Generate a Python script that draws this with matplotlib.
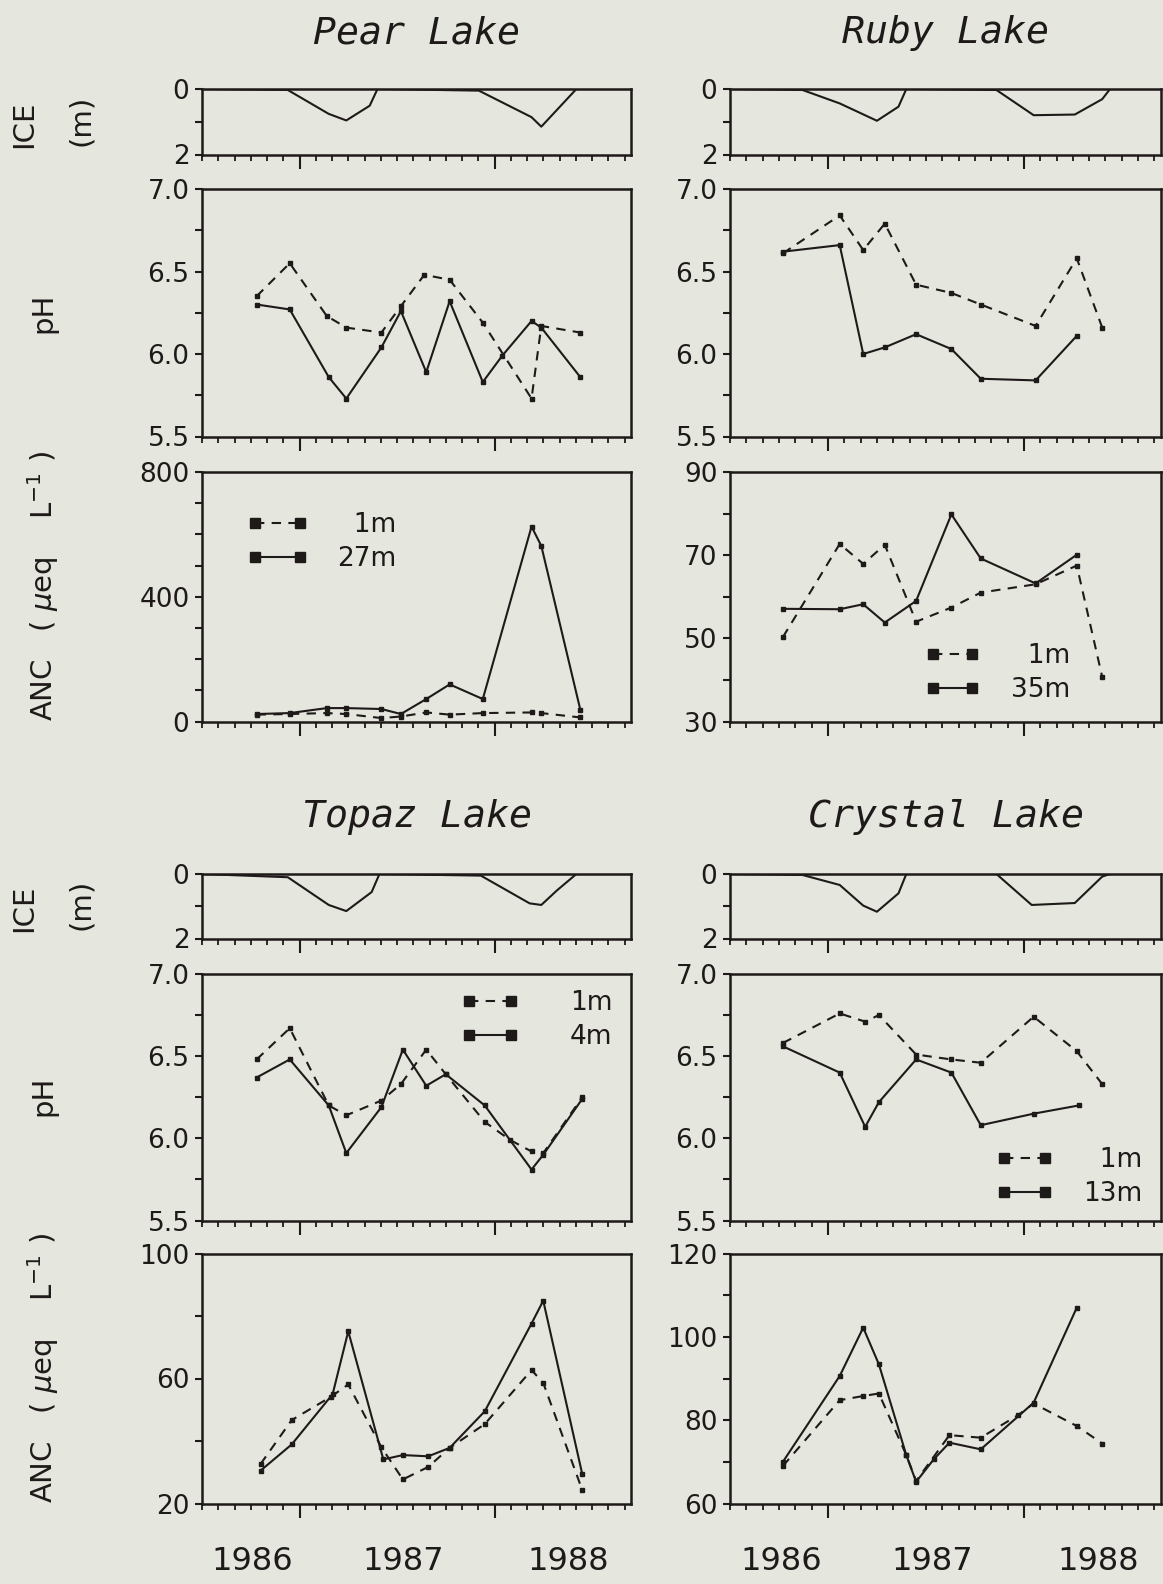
import numpy as np
import matplotlib
matplotlib.use("Agg")
import matplotlib.pyplot as plt
from matplotlib.ticker import FixedLocator, NullFormatter, FormatStrFormatter

# ---------------- data (time in decimal years) ----------------
# ice thickness (m)
pear_ice_t = [1986.5, 1986.94, 1987.15, 1987.24, 1987.36, 1987.40, 1987.92, 1988.19, 1988.24, 1988.42, 1988.7]
pear_ice = [0, 0.03, 0.76, 0.96, 0.51, 0, 0.05, 0.86, 1.15, 0, 0]
ruby_ice_t = [1986.5, 1986.87, 1987.06, 1987.25, 1987.36, 1987.40, 1987.86, 1988.05, 1988.26, 1988.40, 1988.44, 1988.7]
ruby_ice = [0, 0.03, 0.44, 0.97, 0.54, 0, 0.03, 0.80, 0.78, 0.31, 0, 0]
topaz_ice_t = [1986.5, 1986.94, 1987.15, 1987.24, 1987.37, 1987.41, 1987.93, 1988.18, 1988.24, 1988.32, 1988.42, 1988.7]
topaz_ice = [0, 0.10, 0.96, 1.15, 0.56, 0, 0.05, 0.91, 0.96, 0.51, 0, 0]
crystal_ice_t = [1986.5, 1986.87, 1987.06, 1987.18, 1987.25, 1987.36, 1987.40, 1987.86, 1988.04, 1988.26, 1988.40, 1988.44, 1988.7]
crystal_ice = [0, 0.03, 0.34, 0.98, 1.17, 0.60, 0, 0, 0.96, 0.90, 0.08, 0, 0]

# Pear Lake (1m, 27m)
pear_ph1_t = [1986.78, 1986.95, 1987.14, 1987.24, 1987.42, 1987.52, 1987.64, 1987.77, 1987.94, 1988.19, 1988.24, 1988.44]
pear_ph1 = [6.35, 6.55, 6.23, 6.16, 6.13, 6.29, 6.48, 6.45, 6.19, 5.73, 6.17, 6.13]
pear_ph2_t = [1986.78, 1986.95, 1987.15, 1987.24, 1987.42, 1987.52, 1987.65, 1987.77, 1987.94, 1988.04, 1988.19, 1988.24, 1988.44]
pear_ph2 = [6.30, 6.27, 5.86, 5.73, 6.04, 6.26, 5.89, 6.32, 5.83, 5.99, 6.20, 6.16, 5.86]
pear_anc1_t = [1986.78, 1986.95, 1987.14, 1987.24, 1987.42, 1987.52, 1987.65, 1987.77, 1987.94, 1988.19, 1988.24, 1988.44]
pear_anc1 = [22, 24, 27, 24, 11, 16, 29, 22, 27, 29, 27, 13]
pear_anc2_t = [1986.78, 1986.95, 1987.14, 1987.24, 1987.42, 1987.52, 1987.65, 1987.77, 1987.94, 1988.19, 1988.24, 1988.44]
pear_anc2 = [24, 27, 43, 43, 40, 24, 72, 119, 72, 625, 563, 38]

# Ruby Lake (1m, 35m)
ruby_ph1_t = [1986.77, 1987.06, 1987.18, 1987.29, 1987.45, 1987.63, 1987.78, 1988.06, 1988.27, 1988.40]
ruby_ph1 = [6.61, 6.84, 6.63, 6.79, 6.42, 6.37, 6.30, 6.17, 6.58, 6.16]
ruby_ph2_t = [1986.77, 1987.06, 1987.18, 1987.29, 1987.45, 1987.63, 1987.78, 1988.06, 1988.27]
ruby_ph2 = [6.62, 6.66, 6.00, 6.04, 6.12, 6.03, 5.85, 5.84, 6.11]
ruby_anc1_t = [1986.77, 1987.06, 1987.18, 1987.29, 1987.45, 1987.63, 1987.78, 1988.06, 1988.27, 1988.40]
ruby_anc1 = [50.3, 72.7, 67.9, 72.5, 54.0, 57.4, 61.0, 63.0, 67.5, 40.7]
ruby_anc2_t = [1986.77, 1987.06, 1987.18, 1987.29, 1987.45, 1987.63, 1987.78, 1988.06, 1988.27]
ruby_anc2 = [57.1, 57.0, 58.2, 53.8, 59.0, 79.8, 69.2, 63.2, 70.1]

# Topaz Lake (1m, 4m)
topaz_ph1_t = [1986.78, 1986.95, 1987.15, 1987.24, 1987.42, 1987.52, 1987.65, 1987.75, 1987.95, 1988.08, 1988.19, 1988.25, 1988.45]
topaz_ph1 = [6.48, 6.67, 6.20, 6.14, 6.23, 6.33, 6.54, 6.39, 6.10, 5.99, 5.92, 5.91, 6.25]
topaz_ph2_t = [1986.78, 1986.95, 1987.15, 1987.24, 1987.42, 1987.53, 1987.65, 1987.75, 1987.95, 1988.19, 1988.25, 1988.45]
topaz_ph2 = [6.37, 6.48, 6.20, 5.91, 6.19, 6.54, 6.32, 6.39, 6.20, 5.81, 5.90, 6.24]
topaz_anc1_t = [1986.80, 1986.96, 1987.16, 1987.25, 1987.42, 1987.53, 1987.66, 1987.77, 1987.95, 1988.19, 1988.25, 1988.45]
topaz_anc1 = [32.6, 46.7, 54.1, 58.1, 38.0, 27.7, 31.7, 37.8, 45.4, 62.7, 58.6, 24.3]
topaz_anc2_t = [1986.80, 1986.96, 1987.17, 1987.25, 1987.43, 1987.53, 1987.66, 1987.77, 1987.95, 1988.19, 1988.25, 1988.45]
topaz_anc2 = [30.5, 38.9, 55.0, 75.1, 34.1, 35.5, 35.1, 37.8, 49.5, 77.6, 84.9, 29.4]

# Crystal Lake (1m, 13m)
crystal_ph1_t = [1986.77, 1987.06, 1987.19, 1987.26, 1987.45, 1987.63, 1987.78, 1988.05, 1988.27, 1988.40]
crystal_ph1 = [6.58, 6.76, 6.71, 6.75, 6.51, 6.48, 6.46, 6.74, 6.53, 6.33]
crystal_ph2_t = [1986.77, 1987.06, 1987.19, 1987.26, 1987.45, 1987.63, 1987.78, 1988.05, 1988.28]
crystal_ph2 = [6.56, 6.40, 6.07, 6.22, 6.48, 6.40, 6.08, 6.15, 6.20]
crystal_anc1_t = [1986.77, 1987.06, 1987.18, 1987.26, 1987.40, 1987.45, 1987.62, 1987.78, 1987.97, 1988.05, 1988.27, 1988.40]
crystal_anc1 = [69.0, 84.8, 85.8, 86.4, 71.6, 65.4, 76.4, 75.8, 81.2, 84.0, 78.6, 74.4]
crystal_anc2_t = [1986.77, 1987.06, 1987.18, 1987.26, 1987.40, 1987.45, 1987.54, 1987.62, 1987.78, 1988.05, 1988.27]
crystal_anc2 = [70.0, 90.6, 102.2, 93.4, 71.6, 65.2, 70.6, 74.6, 73.0, 84.2, 107.0]

year_labels = ["1986", "1987", "1988"]
year_label_pos = [1986.76, 1987.53, 1988.38]

# ---------------- style ----------------
W, H = 1163, 1584
BG = "#e5e6dd"
INK = "#1e1a1a"
DASH = (0, (4.5, 3.5))
TICK_FS = 19

plt.rcParams["font.family"] = "DejaVu Sans"
plt.rcParams["text.color"] = INK
plt.rcParams["mathtext.fontset"] = "dejavusans"

fig = plt.figure(figsize=(W / 100, H / 100), dpi=100, facecolor=BG)

COL_X = [(202, 631), (730, 1161)]
ROWS = [
    {"ice": (89, 154.5), "ph": (189, 436.5), "anc": (472, 721.5)},
    {"ice": (874, 938.5), "ph": (974, 1220.5), "anc": (1253.5, 1503.5)},
]


def px_rect(x0, x1, y0, y1):
    return [x0 / W, 1 - y1 / H, (x1 - x0) / W, (y1 - y0) / H]


def style_axes(ax):
    ax.set_facecolor(BG)
    for s in ax.spines.values():
        s.set_linewidth(1.8)
        s.set_color(INK)
    ax.set_xlim(1986.5, 1988.7)
    ax.xaxis.set_major_locator(FixedLocator([1987.0, 1988.0]))
    ax.xaxis.set_minor_locator(FixedLocator(1986.5 + np.arange(27) / 12.0))
    ax.xaxis.set_major_formatter(NullFormatter())
    ax.tick_params(axis="x", which="major", direction="out", length=10, width=1.5, color=INK)
    ax.tick_params(axis="x", which="minor", direction="out", length=4.5, width=1.3, color=INK)
    ax.tick_params(axis="y", which="both", direction="out", length=5, width=1.5,
                   color=INK, labelsize=TICK_FS, labelcolor=INK, pad=4)


def draw_lake(col, row, name, ice_t, ice, ph1_t, ph1, ph2_t, ph2,
              anc1_t, anc1, anc2_t, anc2, labels, anc_lim, anc_major, anc_minor,
              leg_ax, leg_pos, leg_hl, leg_pad, bottom_row):
    x0, x1 = COL_X[col]
    r = ROWS[row]

    # title
    fig.text((x0 + x1) / 2 / W, 1 - (43 if row == 0 else 827) / H, name,
             family="DejaVu Sans Mono", style="oblique", fontsize=27.5,
             ha="center", va="baseline")

    # ice panel
    ax_ice = fig.add_axes(px_rect(x0, x1, *r["ice"]))
    style_axes(ax_ice)
    ax_ice.plot(ice_t, ice, color=INK, lw=1.5)
    ax_ice.set_ylim(2, 0)
    ax_ice.set_yticks([0, 1, 2])
    ax_ice.set_yticklabels(["0", "", "2"])

    # pH panel
    ax_ph = fig.add_axes(px_rect(x0, x1, *r["ph"]))
    style_axes(ax_ph)
    l1, = ax_ph.plot(ph1_t, ph1, color=INK, lw=1.5, ls=DASH, marker="s", ms=3.5)
    l2, = ax_ph.plot(ph2_t, ph2, color=INK, lw=1.5, marker="s", ms=3.5)
    ax_ph.set_ylim(5.5, 7.0)
    ax_ph.yaxis.set_major_locator(FixedLocator([5.5, 6.0, 6.5, 7.0]))
    ax_ph.yaxis.set_minor_locator(FixedLocator([5.75, 6.25, 6.75]))
    ax_ph.yaxis.set_major_formatter(FormatStrFormatter("%.1f"))

    # ANC panel
    ax_anc = fig.add_axes(px_rect(x0, x1, *r["anc"]))
    style_axes(ax_anc)
    ax_anc.plot(anc1_t, anc1, color=INK, lw=1.5, ls=DASH, marker="s", ms=3.5)
    ax_anc.plot(anc2_t, anc2, color=INK, lw=1.5, marker="s", ms=3.5)
    ax_anc.set_ylim(*anc_lim)
    ax_anc.yaxis.set_major_locator(FixedLocator(anc_major))
    ax_anc.yaxis.set_minor_locator(FixedLocator(anc_minor))

    # legend
    target = ax_anc if leg_ax == "anc" else ax_ph
    leg = target.legend([l1, l2], labels, loc="upper left", bbox_to_anchor=leg_pos,
                        frameon=False, fontsize=19, handlelength=leg_hl,
                        handletextpad=leg_pad, labelspacing=0.3, borderpad=0,
                        borderaxespad=0, numpoints=2)
    for h in leg.legend_handles:
        h.set_markersize(7)

    if bottom_row:
        for p, lab in zip(year_label_pos, year_labels):
            ax_anc.text(p, -0.23, lab, transform=ax_anc.get_xaxis_transform(),
                        fontsize=23, ha="center", va="center")

    # y labels only on the left column
    if col == 0:
        yc = {"ice": 124 if row == 0 else 908, "ph": 313 if row == 0 else 1096,
              "anc": 586 if row == 0 else 1368}
        fig.text(24 / W, 1 - yc["ice"] / H, "ICE", rotation=90, fontsize=21,
                 ha="center", va="center")
        fig.text(81 / W, 1 - (yc["ice"] - 4) / H, "(m)", rotation=90, fontsize=21,
                 ha="center", va="center")
        fig.text(43 / W, 1 - yc["ph"] / H, "pH", rotation=90, fontsize=21,
                 ha="center", va="center")
        fig.text(43 / W, 1 - yc["anc"] / H,
                 "ANC   ( " + r"$\mu$" + "eq    L" + r"$^{-1}$" + " )",
                 rotation=90, fontsize=21, ha="center", va="center")


draw_lake(0, 0, "Pear Lake", pear_ice_t, pear_ice, pear_ph1_t, pear_ph1, pear_ph2_t, pear_ph2,
          pear_anc1_t, pear_anc1, pear_anc2_t, pear_anc2, ["  1m", "27m"],
          (0, 800), [0, 400, 800], [100, 200, 300, 500, 600, 700],
          "anc", (0.105, 0.84), 2.3, 1.1, False)

draw_lake(1, 0, "Ruby Lake", ruby_ice_t, ruby_ice, ruby_ph1_t, ruby_ph1, ruby_ph2_t, ruby_ph2,
          ruby_anc1_t, ruby_anc1, ruby_anc2_t, ruby_anc2, ["  1m", "35m"],
          (30, 90), [30, 50, 70, 90], [40, 60, 80],
          "anc", (0.452, 0.315), 2.1, 1.17, False)

draw_lake(0, 1, "Topaz Lake", topaz_ice_t, topaz_ice, topaz_ph1_t, topaz_ph1, topaz_ph2_t, topaz_ph2,
          topaz_anc1_t, topaz_anc1, topaz_anc2_t, topaz_anc2, ["1m", "4m"],
          (20, 100), [20, 60, 100], [40, 80],
          "ph", (0.604, 0.935), 2.2, 1.93, True)

draw_lake(1, 1, "Crystal Lake", crystal_ice_t, crystal_ice, crystal_ph1_t, crystal_ph1,
          crystal_ph2_t, crystal_ph2, crystal_anc1_t, crystal_anc1, crystal_anc2_t, crystal_anc2,
          ["  1m", "13m"], (60, 120), [60, 80, 100, 120], [70, 90, 110],
          "ph", (0.617, 0.298), 2.15, 1.14, True)

fig.savefig("out.png", dpi=100, facecolor=BG)
